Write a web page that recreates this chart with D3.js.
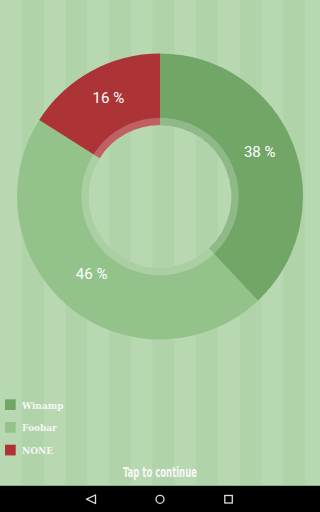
<!DOCTYPE html>
<html>
<head>
<meta charset="utf-8">
<script src="https://cdn.jsdelivr.net/npm/d3@7"></script>
<style>
  html, body { margin: 0; padding: 0; background: #b6d8b0; }
  svg { display: block; }
</style>
</head>
<body>
<main></main>
<script>
// slices, in drawing order (clockwise from 12 o'clock)
const players = ["Winamp", "Foobar", "NONE"];
const shares = [38, 46, 16];
const sliceColors = ["#71a667", "#93c28a", "#ad3436"];

const svgWidth = 320,
  svgHeight = 512,
  cx = 160,
  cy = 196.5,
  outerR = 143,
  holeR = 71.5,
  ringR = 78.7;

const svg = d3
  .select("main")
  .append("svg")
  .attr("width", svgWidth)
  .attr("height", svgHeight);

// striped background
const stripeW = 21.8;
svg
  .append("g")
  .selectAll("rect")
  .data(d3.range(Math.ceil(svgWidth / stripeW)))
  .join("rect")
  .attr("x", (i) => i * stripeW)
  .attr("y", 0)
  .attr("width", stripeW + 0.2)
  .attr("height", svgHeight)
  .attr("fill", (i) => (i % 2 ? "#b0d3a9" : "#b7d8b1"));

const pie = d3.pie().sort(null).value((d) => d);
const arcs = pie(shares);

const arc = d3.arc().innerRadius(holeR).outerRadius(outerR);
const labelArc = d3
  .arc()
  .innerRadius((holeR + outerR) / 2)
  .outerRadius((holeR + outerR) / 2);

const chart = svg.append("g").attr("transform", `translate(${cx},${cy})`);

chart
  .selectAll("path.slice")
  .data(arcs)
  .join("path")
  .attr("class", "slice")
  .attr("d", arc)
  .attr("fill", (d, i) => sliceColors[i]);

// translucent ring round the hole
chart
  .append("path")
  .attr(
    "d",
    d3.arc().innerRadius(holeR).outerRadius(ringR).startAngle(0).endAngle(2 * Math.PI)()
  )
  .attr("fill", "#ffffff")
  .attr("fill-opacity", 0.22);

chart
  .selectAll("text.pct")
  .data(arcs)
  .join("text")
  .attr("class", "pct")
  .attr("x", (d) => labelArc.centroid(d)[0])
  .attr("y", (d) => labelArc.centroid(d)[1])
  .attr("text-anchor", "middle")
  .attr("font-family", "Roboto, sans-serif")
  .attr("font-size", 15)
  .attr("fill", "#ffffff")
  .text((d) => d.data + " %");

// legend
const legend = svg
  .append("g")
  .selectAll("g")
  .data(players)
  .join("g")
  .attr("transform", (d, i) => `translate(5,${399.3 + i * 22.7})`);

legend
  .append("rect")
  .attr("width", 10.7)
  .attr("height", 10.7)
  .attr("fill", (d, i) => sliceColors[i]);

legend
  .append("text")
  .attr("x", 17)
  .attr("y", 9.3)
  .attr("font-family", "'DejaVu Serif', serif")
  .attr("font-weight", "bold")
  .attr("font-size", 9)
  .attr("fill", "#f7f7f7")
  .text((d) => d);

svg
  .append("text")
  .attr("x", 160)
  .attr("y", 476.5)
  .attr("text-anchor", "middle")
  .attr("font-family", "'Liberation Sans Narrow', 'DejaVu Sans Condensed', sans-serif")
  .attr("font-weight", "bold")
  .attr("font-size", 14)
  .attr("textLength", 74)
  .attr("lengthAdjust", "spacingAndGlyphs")
  .attr("fill", "#f7f7f7")
  .text("Tap to continue");

// android navigation bar
svg.append("rect").attr("x", 0).attr("y", 485).attr("width", svgWidth).attr("height", 1).attr("fill", "#8fae89");
svg.append("rect").attr("x", 0).attr("y", 486).attr("width", svgWidth).attr("height", 26).attr("fill", "#000000");
const nav = svg.append("g").attr("fill", "none").attr("stroke", "#dddddd").attr("stroke-width", 1.3);
nav.append("path").attr("d", "M95.5,495 L95.5,503.5 L86.5,499.2 Z").attr("stroke-linejoin", "round");
nav.append("circle").attr("cx", 160).attr("cy", 499.3).attr("r", 4);
nav.append("rect").attr("x", 224.8).attr("y", 495.5).attr("width", 7.5).attr("height", 7.5);
</script>
</body>
</html>
